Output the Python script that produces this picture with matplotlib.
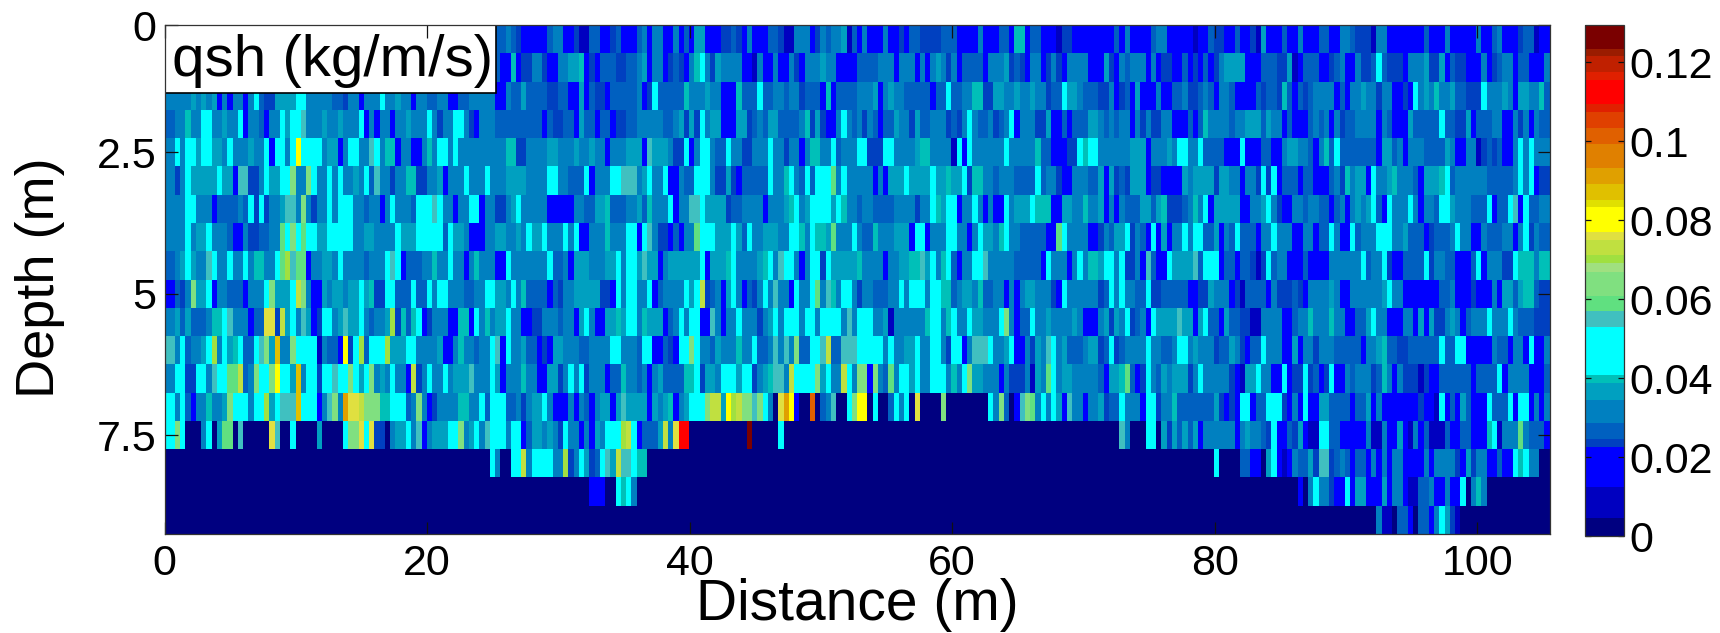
"""
qsh section: transport along the line, depth against distance.
"""

import matplotlib

matplotlib.use("Agg")

import matplotlib.pyplot as plt
import numpy as np
from matplotlib.colors import BoundaryNorm, ListedColormap
from matplotlib.patches import Rectangle

plt.rcParams["font.family"] = ["Liberation Sans", "DejaVu Sans"]

# colour bands
band_edges = [0, .00447, .0125, .02245, .02456, .02853, .03443, .03865, .04076, .05283,
              .05696, .06076, .06691, .06903, .07114, .07494, .07704, .08321, .08506, .08911,
              .09324, .09916, .10321, .10742, .10937, .11544, .11739, .12152, .1232, .12937]
band_colors = ["#000080", "#0000C0", "#0000FF", "#0040C0", "#0060C0", "#0080C0", "#00A0C0",
               "#00C0B8", "#00FFFF", "#40C0C0", "#60E080", "#80E080", "#A0E080", "#A0E040",
               "#C0E040", "#E0E040", "#FFFF00", "#E0E000", "#E0C000", "#E0A000", "#E08000",
               "#E06000", "#E04000", "#E02000", "#FF0000", "#E02000", "#C02000", "#9A1C00",
               "#7A0000"]

# one character per cell, looked up in level_values
level_values = {"0": .002, "1": .008, "2": .017, "3": .0235, "4": .0265, "5": .031, "6": .036,
                "7": .0397, "8": .046, "9": .055, "a": .0588, "b": .064, "c": .070, "d": .073,
                "e": .076, "f": .080, "g": .087, "h": .091, "i": .096, "j": .101, "k": .105,
                "l": .112, "m": .126}

# each row is three stretches of 88 cells (left, middle, right part of the section)
row_00 = ["4" * 63 + "4454322222455223114422342",
          "2 4 5 2 55 22 5 2 4 2 66 222 33 4 3 2 5 222 44 3 11 555 2 3 5 4 55 6 1 4 2 5 2 22 5 22 3 2 44 33 33 4 44 2 222 5 222 44 2 77 2 44 222 1 33 222",
          "2222 4 2 5 222 4 5 5 2222 1 22 4 33 2 4 22 3 1 6 22 4 22 5 222 4 22 5 5 4 33 1 55 222222 4 222 5 22 22 5 22 4 5 22 3 44 1 22"]
row_01 = ["4" * 63 + "22723355322556672324443 3",
          "4 5 6 2 55 2 3 4 3 2 5 7 8 5 3 6 55 55 2 1 5 22 5 22 5 3 2 555 6 55 2222 444 555 2 555 2 5 2 5 6 5 3 5 2 444 2 5 55 6 3 4 3 2 55 2 3 5 3 2 5555",
          "2 2 6 3 2 5 4 555 2 5 2 33 22 4 2 3 2 4 2 3 5 6666 222 444 3 3 6 1 2 444 2 3 4 5 22 5 33 4 8 4 3332 555 6 33 6 2 4 33 222 5 2 3 4 55 2 44 222 5"]
row_02 = ["5555 6 5 6 5 6 2 5 2 55 2 5 8 4 33 6666 88 5555 44 3 55 2 555 8 55 6 55 2 55 44 55 22 44 5555 22 5 44 6 4444 33 44 22 6 2 4 33 2 444",
          "4 5 2 3 8 444 44 7 555 6 55 222 7 44 8 44 55 4 55 3 444 2 7 2 4444 55 6 2 5 6 55 44444 2 44 8 44 55 7 33 66 55 6 55 6 55 3 44 8 66 5 4",
          "4 33 5 2 3 4 2 6 222 5 2 44 5 33 4 5 4 2 55 4 222 4 3 44 3 7 4 2 4 3 4 555 2 4 2 55 6 55 3 55 2 3 2 8 5 6 5 7 55 6 44 33 8 5 55 6 5 2 66 55 7 4"]
row_03 = ["4 55 7 55 88 55 6 55 8 2 55 4 2 55 8 6 88 9 555 6 55 6 555 8 2 5 2 55 2 5 6 555 8 5 3 55 88 5 3 2 555 444444444 2 4 33 44 2 6 44 2 44 233",
          "4 55 5 55 44 5 6 3 6 3 8 5 66 222 66 3 4 5 4 66 444 5 7 3 6 3 22 5 8 5 4 5 3 5 4 2 44 6 55 3 6 44 55 3 4 3 5 8 5 44 5 3 4 5 8 2 555 33 6 22 4 2 444",
          "6 5 4 5 4 55 2 5 3 5 33 55 22 4 2 4 7 5 555 4 55 666 4 6 5 2 4 222 4 5 4 5 2 5 3 44 555 2 5 4 222 6 44444 8 44 3 6 2 444 55 22 5 3 5 2 5 44"]
row_04 = ["5 8 5 88 6 88 66 5 8 5 55 6 5 8 2 8 8 5 8 f 8 888 5 66 2 5 8 55 9 8 5 77 2 55 22 5 7 5 8 5 8 5 555 55555 77 33 555 66 555 6 55 6 55 2 555",
          "66 2 9 666 5 33 8 2 5 88 5 44 8 55 3 555 8 55 3 55 2 5 77 55 8 4 555 8 3 33 88 5555 6 77 5555 1 8 2 8 55555 8 55555 7 44 222 33 8 7",
          "8 5 555 55666 2 55 5 6 5 8 55 8 44 44 222 8 222 44 2 5 6 6 55 4 2 5 7 4 8 444444 2 66 4 5 2 555 4444 6 5 2 55 1 3 4 3 4 2 2 5 8 5 8 555"]
row_05 = ["5 3 5 8 66 6 6 6 8 66 2 9 33 5 8 66 88 b 55 b 8 5 8 5 8 55 6 5 8 4 9 55 3 5 77 33 55 6 2 5 55 8 55 8 555 6666 5555 8 55 444 8 2 555 88 9",
          "9 5 6 8 55 8 22 5 44 888 5 33 6 3 2 4444 8 55 7 8 5 4 8 4 888 a 5 8 55 55 2 5 2 666 8 6666 8 66 7 66 8 3 7 55 4 555 4444 8 4 55 3 22 55 5",
          "4 6 2 6 3 4 3 666 2 33 2222 6 5 6666 3 66 55 2 55 3 8 3 8 2 444 2 44 22 4 5 3 7 5 66 2 8 55 6 7 5 55 4 2 666 7 8 4 5 55 555 44 444 5 8 5 8 2 33"]
row_06 = ["555 88 555 2 4444 5 4 8 3 8 3 55 6 99 5 b 5 3 5 8 5 8 88 55 4 55 2 5 8 555 4 888 9 8 55 2 55 8 2 55 33 5 6 8 55555 22222 5544 66 7 444",
          "5 6 4 7 555 8 2 55 99 8 666 3 44 55 55 2 555 6 7 8 5 6 888 6 8 7 55 4 5 5 4444 555 3 55 8 7 6 88 2 55 8 5 2 5 2 8 5 666 8 7 77 22 66 55 7",
          "5 6 2 5 2 5 444 66 4 6 7 333 4 5 7 5 8 2 66666 2 55 6 8 5 3 22 55 4 55 44 2 4 5 2 5 6 5 6 8 4 2 8 55 8 5 2 55 4 88 6 555 444 8 2 44 8 9 2 8 4455"]
row_07 = ["555 8 5 66 8 5 55 4 22 533 44 55 a 8 b 8 a 88 6 88888 55 66 5555 8 666 88888 4 8 66 5 22 55 66 55 6 5 8 66 8 5 55 8 5 8 22 555 7 555",
          "8 2 8 9 5 33 2 4 2 55 a 8 88 666 8 6 4 8 55 666 5 88 7 5 8 77 6 a 555 8 5 44 7 555 666 2 88 2 55 88 55 2 5 8 66 5 7 8 55 44444 22 a 8 5555",
          "2 3 5 4 66 8 3 5 4 2 8 2 6 2 55 8 5 88 4 6 2 5 4 8 444 2 55 8 5 55 22 55 2 4 8 5 22 8 4 555 888 55 6 444 2 3 44 5 8 5 5 22 5 444 55 2 5 8 3 5 44"]
row_08 = ["4 5 6 8 6 55 9 8 55 8 55 8 5 7 55 8 a c 9 aa 2 55 66 5 8 555 4 555 8 9 8 2 444 55 7 5 8 55 2 5 7 555 22 8 555 555 8 44 5 2 666 555 66 8 5",
          "8 6 9 66 2 5 6 666 66 8 2 66 7 8 5555 6 7 8 5 9 88 5 2 5 8 3 8 666 66 7 5555 2 55 6 77 9 6 8 5 7 8 4 2 55 88 9 5555 44444 2 8 55 5 2 5 8 5",
          "7 6 88 5 8 33 5 2 9 4 22 8 6666 9 4 88 2 44 2 44 3 1 3 8 4 55 222 4 222 555555 8 4 55 8 3 2 2 4444 8 3 5 44 222 4 8 2 5 55 33 8 777 5 77"]
row_09 = ["2 4 3 5 b 66 8 2 55444 2 55 8 b 666 8 d b 5 22 6 5 6 6 5 6 8 6 7 33 88 444 8 44 8 5 8 555 44 55 88 66 5 8 5 7 4 44 2 4 3 55 66666 33 2 8 5",
          "8 55 8 2 4 5555 8 6 8 d 3 4 5 2 6 8 5 2 4 3 5 8 5 9 5 2 8 55 8 a 5 9 7 5 88 5 3 55 444 55 8 5 888 5 8 77 4 5 66 5 7 44 5 5 2 5 2 5 66 555 3 2 8 5555",
          "5 3 4 8 5 8 55 44 8 3 444 44 22 33 6 55 2 3 1 4444 2 5 33 4 3 2 5555 6 5 22 5 5555 6 8 55 2 2 2222 44 5 222 3 22 5 2 66 4 6 77 4 33"]
row_10 = ["5 6 4 6 444 5 77 8 9 5 55 2 4 ee 3 d 6 8 5 9 6 2 3 88 5 6 9 6 8 5 4 55 6 c 3 7 4 7 8 2 3 55 22 77 2 8 5 7 5 66 8 55 22 3 555 4 55 2 6 8 5 22 66 7 6",
          "8 5 7 6 66 2 4 5 8 5 88 22 9 5 2 55 8 55 3 5 6 8 5 888 5 88 5 8888 5 9 5 8 8 55 6 1 555 555 7 88 5 7 8 55 8 6 555 8 b 5 2 44 8 55 6 55 55 6 5 2",
          "2 5 6 3 6 5 8 3 4 5 2 8 666 9 66 2 6 8 44 2 6 44 3 11 5555 22 4 55 7 55 7 55 22 44 6 8 55 22 55 2 6 2 6 33 5 6 5 2 4 55 8 555 8 5 4 44 3 33"]
row_11 = ["9 5 8 4 55 6 8 c 5 8 6 7 8 44 8 9 b 6 g 5 b 8888 1 5 44 2 f 3 8 c 4 888 c 66 88 55 55 6 22 5 7 5 5 4 55 8 9 2 8 5 6 44 2 3 2 66 555 4455 55 88 5",
          "5 4 88 22 4 3 2 88 b 8 55 4 6 5 55 7 5 8 44 5 9 5 9 5 b 44 88 9 d 44 999 8888 5 8 55 66 8 55 88 5 3 88 2 5 99 8 55 6 8 22 5 3 6 5 9 8 5 6 44 4 5",
          "6 3 4 8 3 4 5555 8 5 44 5 88 5 6 555 3 4 6 5 3 2 44 8 555 2 6 2 55 3 55 5 44 44 2 55 6 7 44 33 44 444 8 44 88 22 2 2 5 44 2 55 2 8 22 5"]
row_12 = ["5 88 33 88 5 9 88 aa d 4 5 b 88 b f 8 6 g 5 88 3 88 9 88 b 8 6 8 b 5 6 5 8 5 2 d 3 5 8 55 8 5 666 9 5 55 8 6 2 55 7 55 22 66 3 5 8 5 8 3 555 2 44 7",
          "5 4 5 2 5 6 4444 77 8 3 66 5 888 6 8 3 5 6 7 99 5 d 8888 b 6 8 5 5 d 8 5 b 2 b 5 4 a 5 8 8 6 8 55 888 5 7 5 8 b 6 555 2 5 333 5 1 6 5 a 8 5 66 555",
          "5 4 2 6 6 7 a 4 2 3 8 5 4 6 5 66 3 5 8 5 5555 3 2 1 66 8 55 2 8 2 33 8 3 4 2 3 8 22 5 4 55 3 4 7 5 2 5 333 1 3 22 44 4 4 4 2 444 4 8 2 5555 222 4"]
row_13 = ["8 5 8 4 2 55 7 55 6 b 888 5 8 c 6 8 999 g 888 2 5 9 b 5 h e d b b b 77 888 4 5 b 5 2 3 5 5 5 77 55 8 4 888 44 5 3 5 6 8 5 222 5 2 5 4 2 5 66 2 6 9",
          "666 2 6 5 6 7 2 5 6 888 b d d 6 f c d b 9 b 8 5 0 e h f 2 00 j 0 4 5 9 00 8 b f 0 8 00 4 8 5 8 0 e 0000 b 0000000 8 5 b 4 0 2 9 b a 5 8 5 8 6 2 9 5 5 2",
          "5 6 3 44 8 555 2 88 3 5 7 444 4444 6 3 2 3 2 8 2 44 888 3 2 5 2 8 22 6 4444 2 44 6 2 5 22 2222 3 22 1 8 2 4 2 6 4 22 8 444 8 2 88 2 5 2 5"]
row_14 = ["8 b 8 000 5 8 0 6 aa 0 9 00000 e 9 0 8 0000 6 0000 8 bb e 8 e 3 3 0 5 6 8 5 9 2 5 666 88 b 5 6 8 5 9 888 5 8 2 4 6 6 5 6 5 3 8 5 5 2 5 2 6 5 888 c",
          "d 8 2 44 4 6 d 5 e ll" + "0" * 11 + "m 00000 8" + "0" * 58,
          "00000 9 5 000 88 0 6 3 6 4 6 4 6 2 55555 2 5 6 55 4 3 8 22 4 3 6 2 11 8 44 222 22 5 11 5 22 6 2 1 5 2 4 11 4 22 44 222 7 8 1 555 a 5 44 4 2"]
row_15 = ["0" * 60 + "8 5 00 8 8 d 5 8888 5 5 c 3 5 8 6 3 4 8 9 6 d 9",
          "9 8 77" + "0" * 84,
          "0" * 22 + "8 0000 44 22 0 6 8 2 1 2 5 44 6 3 9 3 4 5 4 2 44 2 5 2 5 2 5 5 2 222 5 2 555 3 2 6 3 55 22 4 22 8 7 8 5 5 00"]
row_16 = ["0" * 81 + "222 00 8 7 8",
          "8 5" + "0" * 86,
          "0" * 39 + "2 0 5 8 5 3 22 8 2 66 222 6 2 55 2 11 44 5 22 5 22 8 0 5 7 5" + "0" * 12]
row_17 = ["0" * 88,
          "0" * 88,
          "0" * 54 + "5 11 0 44 2 0 44 2 5 8 6 3 1" + "0" * 17]

rows = [row_00, row_01, row_02, row_03, row_04, row_05, row_06, row_07, row_08,
        row_09, row_10, row_11, row_12, row_13, row_14, row_15, row_16, row_17]

x_ticks = [0, 20, 40, 60, 80, 100]
y_ticks = [0.25, 2.5, 5, 7.5]
y_tick_labels = ["0", "2.5", "5", "7.5"]
cbar_ticks = [0, 0.02, 0.04, 0.06, 0.08, 0.1, 0.12]
cbar_tick_labels = ["0", "0.02", "0.04", "0.06", "0.08", "0.1", "0.12"]


def decode(row):
    cells = []
    for part in row:
        part = part.replace(" ", "")
        # my count per stretch is a little off, so line it up on the 88 cells
        idx = (np.arange(88) * len(part) / 88).astype(int)
        cells += [level_values[part[i]] for i in idx]
    return cells


qsh = np.array([decode(r) for r in rows])
x_edges = np.linspace(0, 105.5, qsh.shape[1] + 1)
y_edges = np.linspace(0.25, 9.25, qsh.shape[0] + 1)

W, H = 1720, 633
fg = plt.figure(figsize=(W / 100, H / 100), dpi=100)
ax = fg.add_axes([164.5 / W, 1 - 534 / H, 1385 / W, 509 / H])
cax = fg.add_axes([1585 / W, 1 - 536 / H, 39 / W, 511 / H])

cmap = ListedColormap(band_colors)
norm = BoundaryNorm(band_edges, cmap.N)
mesh = ax.pcolormesh(x_edges, y_edges, qsh, cmap=cmap, norm=norm, antialiased=False)

ax.set_xlim(0, 105.5)
ax.set_ylim(9.25, 0.25)
ax.set_xticks(x_ticks)
ax.set_yticks(y_ticks)
ax.set_yticklabels(y_tick_labels)
ax.tick_params(axis="both", direction="in", top=True, right=True, length=9, width=0.9,
               labelsize=31, color="#111111")
ax.tick_params(axis="x", pad=7)
ax.tick_params(axis="y", pad=6)
for s in ax.spines.values():
    s.set_linewidth(0.9)
    s.set_color("#333333")

ax.set_xlabel("Distance (m)", fontsize=41)
ax.xaxis.set_label_coords(0.5, -0.14, transform=ax.transAxes)
ax.xaxis.label.set_verticalalignment("center")
fg.text(40 / W, 1 - 278 / H, "Depth (m)", fontsize=39, rotation=90, ha="center", va="center")

# label box in the top left corner
ax.add_patch(Rectangle((0, 1 - 68 / 509), 331.5 / 1385, 68 / 509, transform=ax.transAxes,
                       fc="white", ec="black", lw=1.2, zorder=1.5))
ax.text(7 / 1385, 1 - 36 / 509, "qsh (kg/m/s)", transform=ax.transAxes, fontsize=42,
        ha="left", va="center", zorder=3)

cb = fg.colorbar(mesh, cax=cax, spacing="proportional", ticks=cbar_ticks)
cb.minorticks_off()
cb.ax.set_yticklabels(cbar_tick_labels)
cb.ax.tick_params(direction="in", left=True, right=True, length=4, width=0.9,
                  labelsize=31, pad=4, color="#111111")
cb.outline.set_linewidth(0.9)
cb.outline.set_edgecolor("#333333")

fg.savefig("out.png", dpi=100)
